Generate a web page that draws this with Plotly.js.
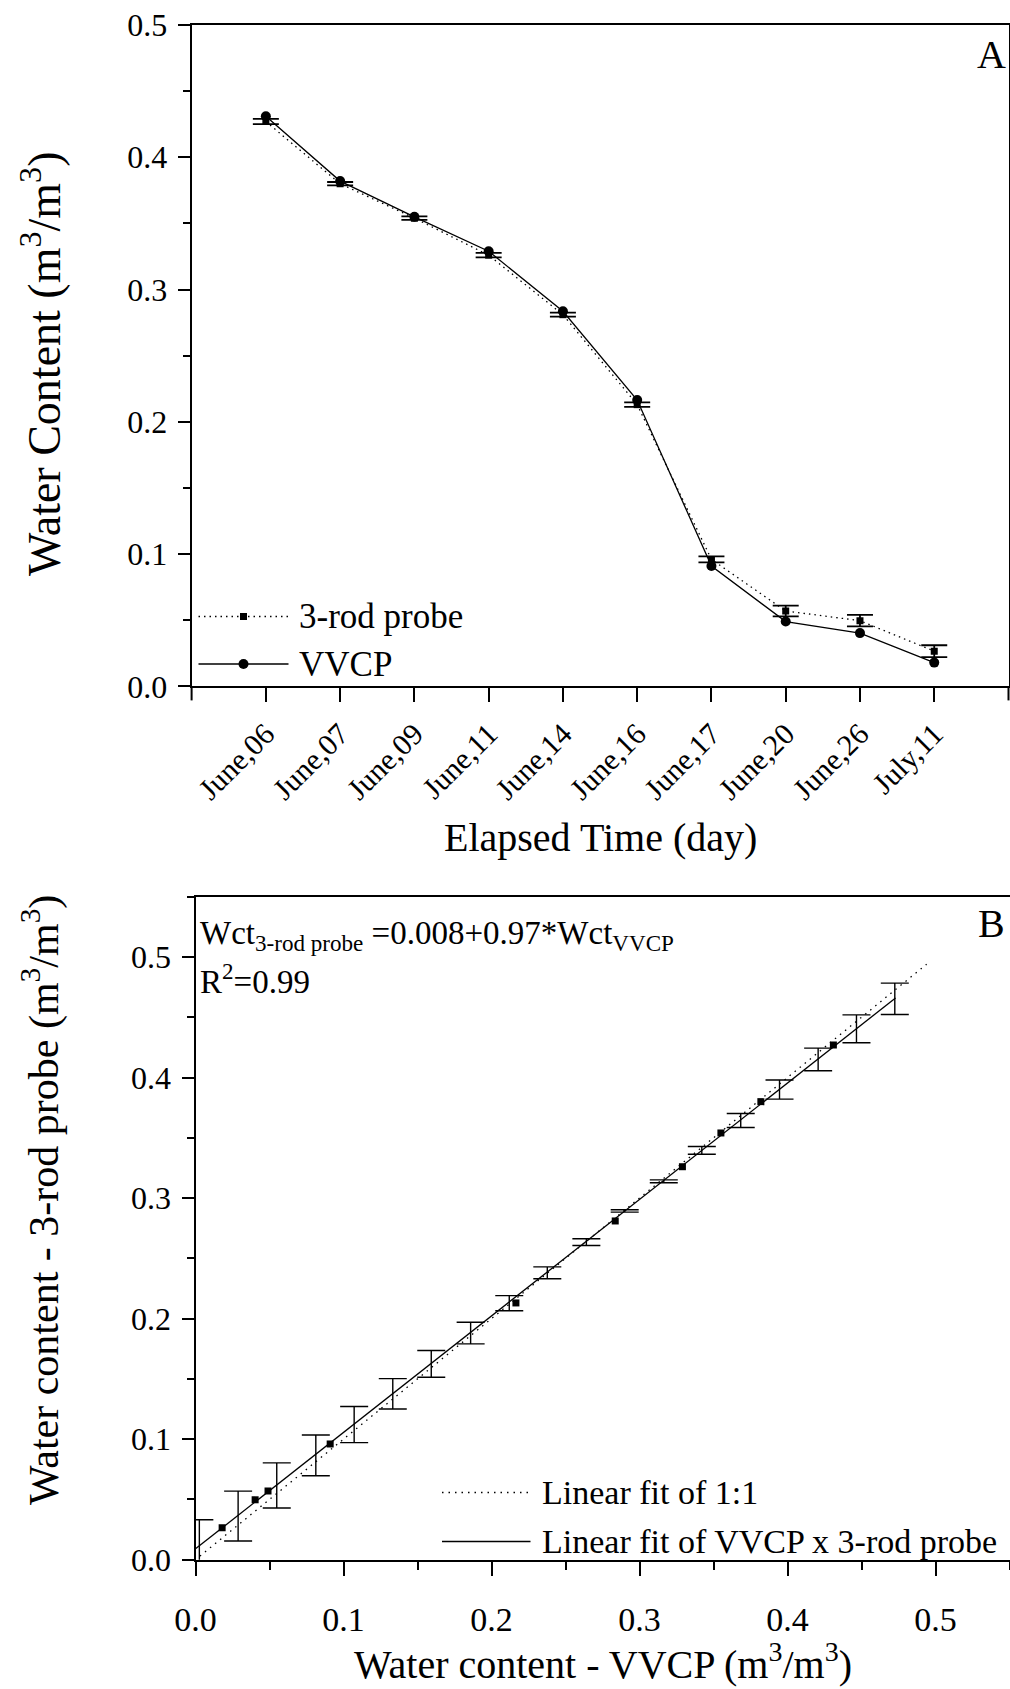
<!DOCTYPE html>
<html><head><meta charset="utf-8">
<script src="https://cdn.plot.ly/plotly-3.0.1.min.js"></script>
<style>html,body{margin:0;padding:0;background:#fff}</style>
</head><body>
<div id="chart" style="width:1010px;height:1689px"></div>
<script>
// ---- Panel A data ----
const dates = ['June,06','June,07','June,09','June,11','June,14','June,16','June,17','June,20','June,26','July,11'];
const vvcp = [0.431, 0.382, 0.355, 0.329, 0.2836, 0.2165, 0.091, 0.049, 0.0403, 0.018];
const rod = [0.427, 0.380, 0.354, 0.326, 0.281, 0.213, 0.096, 0.057, 0.0497, 0.0266];
const rodErr = [0.002, 0.0013, 0.0013, 0.0017, 0.0015, 0.0017, 0.0023, 0.004, 0.0043, 0.0045];

// ---- Panel B data ----
const bandX = [0.0026, 0.0288, 0.0549, 0.0813, 0.1072, 0.1333, 0.1593, 0.1859, 0.2120, 0.2377,
               0.2641, 0.2900, 0.3164, 0.3421, 0.3684, 0.3946, 0.4207, 0.4466, 0.4725];
const bandY = [0.0105, 0.0362, 0.0616, 0.0866, 0.1121, 0.1376, 0.1624, 0.1880, 0.2128, 0.2380,
               0.2634, 0.2893, 0.3139, 0.3396, 0.3643, 0.3900, 0.4150, 0.4404, 0.4653];
const bandErr = [0.0227, 0.0207, 0.0187, 0.0169, 0.0150, 0.0126, 0.0111, 0.0090, 0.0063, 0.0049,
                 0.0028, 0.0010, 0.0012, 0.0032, 0.0058, 0.0079, 0.0094, 0.0116, 0.0130];
const oneX = [0.003, 0.494];
const oneY = [0.003, 0.494];
const fitX = [0.0, 0.473];
const fitY = [0.009, 0.466];

const legendA = ['3-rod probe', 'VVCP'];
const legendB = ['Linear fit of 1:1', 'Linear fit of VVCP x 3-rod probe'];

// ---- styling / layout helpers ----
const W = 1010, H = 1689;
const px = v => v / W;
const py = v => 1 - v / H;
const black = '#000';
const fam = 'Liberation Serif, Times New Roman, serif';
const idx = dates.map((d, i) => i);

const traces = [
  { x: idx, y: rod, xaxis: 'x', yaxis: 'y', type: 'scatter', mode: 'lines+markers', name: legendA[0],
    line: { color: black, width: 1.3, dash: '1.5px,4px' },
    marker: { symbol: 'square', size: 7, color: black },
    error_y: { type: 'data', array: rodErr, visible: true, color: black, thickness: 1.8, width: 13 } },
  { x: idx, y: vvcp, xaxis: 'x', yaxis: 'y', type: 'scatter', mode: 'lines+markers', name: legendA[1],
    line: { color: black, width: 1.3 },
    marker: { symbol: 'circle', size: 10, color: black } },

  { x: oneX, y: oneY, xaxis: 'x2', yaxis: 'y2', type: 'scatter', mode: 'lines', name: legendB[0],
    line: { color: black, width: 1.3, dash: '1.5px,5px' } },
  { x: fitX, y: fitY, xaxis: 'x2', yaxis: 'y2', type: 'scatter', mode: 'lines', name: legendB[1],
    line: { color: black, width: 1.3 } },
  { x: bandX, y: bandY, xaxis: 'x2', yaxis: 'y2', type: 'scatter', mode: 'markers', name: 'band',
    marker: { size: 1, color: 'rgba(0,0,0,0)' },
    error_y: { type: 'data', array: bandErr, visible: true, color: black, thickness: 1.4, width: 14 } },
  { x: vvcp, y: rod, xaxis: 'x2', yaxis: 'y2', type: 'scatter', mode: 'markers', name: 'data',
    marker: { symbol: 'square', size: 7, color: black } }
];

const axisCommon = { showgrid: false, zeroline: false, showline: true, linecolor: black, linewidth: 2,
  mirror: true, ticks: 'outside', tickcolor: black, tickwidth: 2, fixedrange: true,
  tickfont: { family: fam, color: black } };
const minorTicks = len => ({ dtick: 0.05, ticklen: len, ticks: 'outside', tickcolor: black, tickwidth: 2 });

const layout = {
  width: W, height: H, margin: { l: 0, r: 0, t: 0, b: 0 },
  paper_bgcolor: '#fff', plot_bgcolor: '#fff', showlegend: false,
  font: { family: fam, color: black },
  xaxis: Object.assign({}, axisCommon, {
    domain: [px(191.6), px(1008.5)], range: [-1, dates.length], anchor: 'y',
    tickmode: 'array', tickvals: idx, ticktext: dates,
    tickangle: -45, ticklen: 14, ticklabelstandoff: 2, tickfont: { family: fam, color: black, size: 30 } }),
  yaxis: Object.assign({}, axisCommon, {
    domain: [py(686.4), py(25)], range: [0, 0.5], anchor: 'x',
    tick0: 0, dtick: 0.1, tickformat: '.1f', ticklen: 12, ticklabelstandoff: 4, minor: minorTicks(7),
    tickfont: { family: fam, color: black, size: 32 } }),
  xaxis2: Object.assign({}, axisCommon, {
    domain: [px(195.5), px(1009.5)], range: [0, 0.55], anchor: 'y2',
    tick0: 0, dtick: 0.1, tickformat: '.1f', ticklen: 14, ticklabelstandoff: 14, minor: minorTicks(8),
    tickfont: { family: fam, color: black, size: 34 } }),
  yaxis2: Object.assign({}, axisCommon, {
    domain: [py(1559.7), py(896.7)], range: [0, 0.55], anchor: 'x2',
    tick0: 0, dtick: 0.1, tickformat: '.1f', ticklen: 12, ticklabelstandoff: 4, minor: minorTicks(7),
    tickfont: { family: fam, color: black, size: 32 } }),
  shapes: [
    // extra edge ticks on panel A category axis (frame corners)
    { type: 'line', xref: 'paper', yref: 'paper', x0: px(191.6), x1: px(191.6), y0: py(686.4), y1: py(700.4),
      line: { color: black, width: 2 } },
    { type: 'line', xref: 'paper', yref: 'paper', x0: px(1008.5), x1: px(1008.5), y0: py(686.4), y1: py(700.4),
      line: { color: black, width: 2 } },
    // legend A keys
    { type: 'line', xref: 'paper', yref: 'paper', x0: px(198.5), x1: px(288.5), y0: py(616.5), y1: py(616.5),
      line: { color: black, width: 1.3, dash: '1.5px,4px' } },
    { type: 'rect', xref: 'paper', yref: 'paper', x0: px(240), x1: px(247), y0: py(620), y1: py(613),
      line: { width: 0 }, fillcolor: black },
    { type: 'line', xref: 'paper', yref: 'paper', x0: px(198.5), x1: px(288.5), y0: py(664), y1: py(664),
      line: { color: black, width: 1.3 } },
    { type: 'circle', xref: 'paper', yref: 'paper', x0: px(238.5), x1: px(248.5), y0: py(669), y1: py(659),
      line: { width: 0 }, fillcolor: black },
    // legend B keys
    { type: 'line', xref: 'paper', yref: 'paper', x0: px(442), x1: px(530.5), y0: py(1492.5), y1: py(1492.5),
      line: { color: black, width: 1.3, dash: '1.5px,5px' } },
    { type: 'line', xref: 'paper', yref: 'paper', x0: px(442), x1: px(530.5), y0: py(1541.5), y1: py(1541.5),
      line: { color: black, width: 1.3 } }
  ],
  annotations: [
    { xref: 'paper', yref: 'paper', x: px(1008), y: py(54), xanchor: 'right', yanchor: 'middle', showarrow: false,
      text: 'A', font: { family: fam, size: 40, color: black } },
    { xref: 'paper', yref: 'paper', x: px(1007), y: py(924), xanchor: 'right', yanchor: 'middle', showarrow: false,
      text: 'B', font: { family: fam, size: 40, color: black } },
    { xref: 'paper', yref: 'paper', x: px(297), y: py(617), xanchor: 'left', yanchor: 'middle', showarrow: false,
      text: legendA[0], font: { family: fam, size: 35, color: black } },
    { xref: 'paper', yref: 'paper', x: px(297), y: py(664), xanchor: 'left', yanchor: 'middle', showarrow: false,
      text: legendA[1], font: { family: fam, size: 35, color: black } },
    { xref: 'paper', yref: 'paper', x: px(540), y: py(1492), xanchor: 'left', yanchor: 'middle', showarrow: false,
      text: legendB[0], font: { family: fam, size: 34, color: black } },
    { xref: 'paper', yref: 'paper', x: px(540), y: py(1541), xanchor: 'left', yanchor: 'middle', showarrow: false,
      text: legendB[1], font: { family: fam, size: 34, color: black } },
    { xref: 'paper', yref: 'paper', x: px(198), y: py(913), xanchor: 'left', yanchor: 'top', showarrow: false,
      text: 'Wct<sub>3-rod probe</sub> =0.008+0.97*Wct<sub>VVCP</sub>', font: { family: fam, size: 33, color: black } },
    { xref: 'paper', yref: 'paper', x: px(198), y: py(1002), xanchor: 'left', yanchor: 'bottom', showarrow: false,
      text: 'R<sup>2</sup>=0.99', font: { family: fam, size: 33, color: black } },
    // axis titles
    { xref: 'paper', yref: 'paper', x: px(600), y: py(838), xanchor: 'center', yanchor: 'middle', showarrow: false,
      text: 'Elapsed Time (day)', font: { family: fam, size: 40, color: black } },
    { xref: 'paper', yref: 'paper', x: px(41), y: py(364), xanchor: 'center', yanchor: 'middle', showarrow: false,
      textangle: -90, text: 'Water Content (m<sup>3</sup>/m<sup>3</sup>)', font: { family: fam, size: 46, color: black } },
    { xref: 'paper', yref: 'paper', x: px(603), y: py(1661), xanchor: 'center', yanchor: 'middle', showarrow: false,
      text: 'Water content - VVCP (m<sup>3</sup>/m<sup>3</sup>)', font: { family: fam, size: 40, color: black } },
    { xref: 'paper', yref: 'paper', x: px(41), y: py(1200), xanchor: 'center', yanchor: 'middle', showarrow: false,
      textangle: -90, text: 'Water content - 3-rod probe (m<sup>3</sup>/m<sup>3</sup>)', font: { family: fam, size: 42, color: black } }
  ]
};

Plotly.newPlot('chart', traces, layout, { staticPlot: true, displayModeBar: false });
</script>
</body></html>
